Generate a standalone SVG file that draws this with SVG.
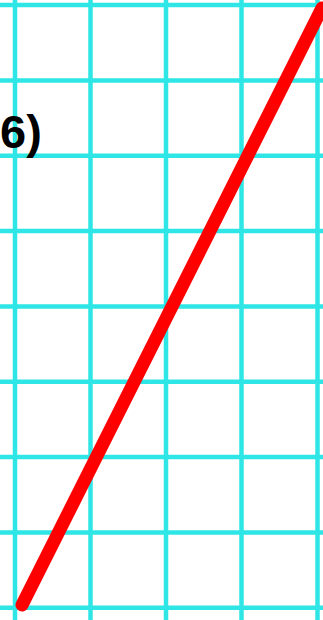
<svg xmlns="http://www.w3.org/2000/svg" width="323" height="620" viewBox="0 0 323 620">
<style>
.grid line{stroke:#2ee6e6;stroke-width:4.5}
.lbl{font-family:"Liberation Sans",Arial,sans-serif;font-weight:bold;font-size:47px;fill:#000}
</style>
<rect width="323" height="620" fill="#fff"/>
<g class="grid" id="grid">
<line x1="15" y1="0" x2="15" y2="620"/>
<line x1="90.5" y1="0" x2="90.5" y2="620"/>
<line x1="166" y1="0" x2="166" y2="620"/>
<line x1="241.5" y1="0" x2="241.5" y2="620"/>
<line x1="317.5" y1="0" x2="317.5" y2="620"/>
<line x1="0" y1="5" x2="323" y2="5"/>
<line x1="0" y1="80.4" x2="323" y2="80.4"/>
<line x1="0" y1="155.7" x2="323" y2="155.7"/>
<line x1="0" y1="231" x2="323" y2="231"/>
<line x1="0" y1="306.4" x2="323" y2="306.4"/>
<line x1="0" y1="381.8" x2="323" y2="381.8"/>
<line x1="0" y1="457.1" x2="323" y2="457.1"/>
<line x1="0" y1="532.5" x2="323" y2="532.5"/>
<line x1="0" y1="607.8" x2="323" y2="607.8"/>
</g>
<g id="label"><text class="lbl" x="0" y="148">6)</text></g>
<g id="connectors">
<line x1="22" y1="605" x2="322" y2="8" stroke="#ff0000" stroke-width="13" stroke-linecap="round"/>
</g>
</svg>
